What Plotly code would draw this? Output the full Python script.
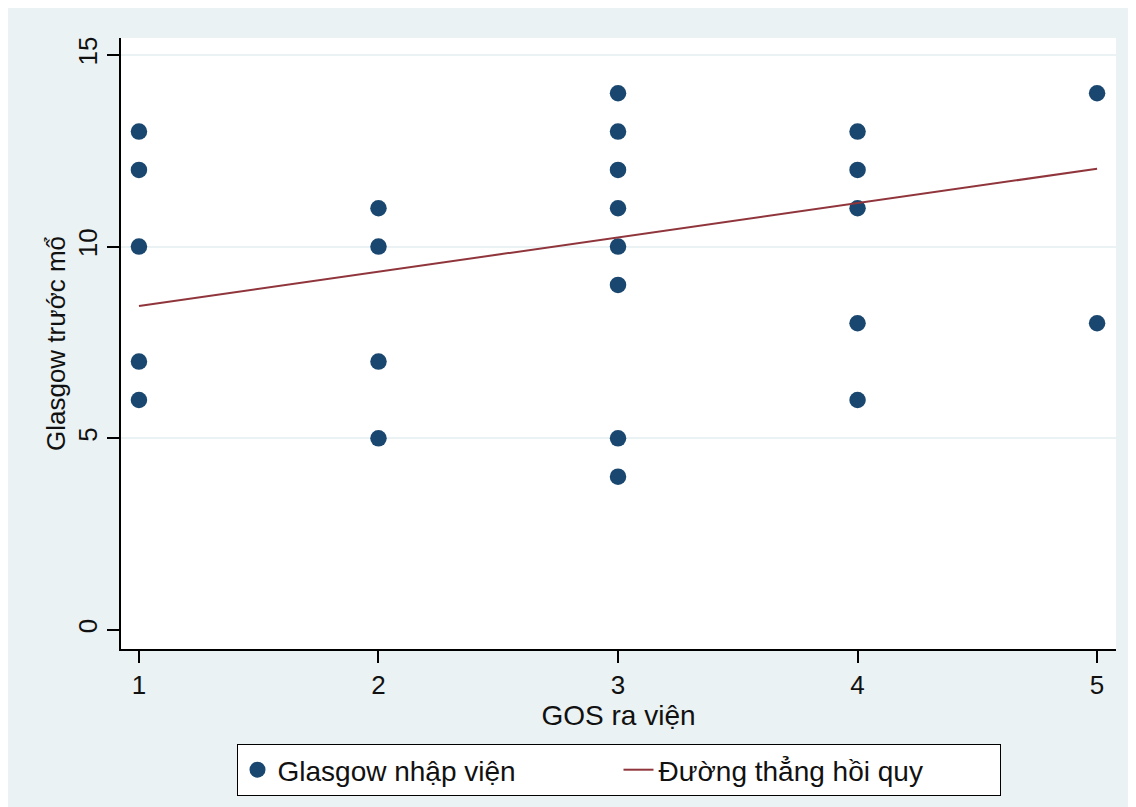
import plotly.graph_objects as go

# Data
gos_x = [1, 1, 1, 1, 1,
         2, 2, 2, 2,
         3, 3, 3, 3, 3, 3, 3, 3,
         4, 4, 4, 4, 4,
         5, 5]
glasgow_y = [13, 12, 10, 7, 6,
             11, 10, 7, 5,
             14, 13, 12, 11, 10, 9, 5, 4,
             13, 12, 11, 8, 6,
             14, 8]
fit_x = [1, 5]
fit_y = [8.45, 12.03]

x_ticks = [1, 2, 3, 4, 5]
y_ticks = [0, 5, 10, 15]

BG = "#EAF2F3"
NAVY = "#1A476F"
MAROON = "#90353B"
FONT = "Liberation Sans, Arial, sans-serif"

fig = go.Figure()
fig.add_trace(go.Scatter(
    x=gos_x, y=glasgow_y, mode="markers",
    name="Glasgow nhập viện",
    marker=dict(color=NAVY, size=16.5, line=dict(width=0)),
))
fig.add_trace(go.Scatter(
    x=fit_x, y=fit_y, mode="lines",
    name="Đường thẳng hồi quy",
    line=dict(color=MAROON, width=2),
))

W, H = 1128, 799
L, R, T, B = 113, 20, 30, 157
ph = H - T - B


def py(q):
    # q: y pixel in figure coordinates
    return (H - B - q) / ph


fig.update_layout(
    width=W, height=H,
    margin=dict(l=L, r=R, t=T, b=B, pad=0),
    paper_bgcolor=BG,
    plot_bgcolor="white",
    font=dict(family=FONT, size=26, color="#111111"),
    showlegend=True,
    legend=dict(
        orientation="h",
        x=0.5, xanchor="center",
        y=py(736), yanchor="top",
        bgcolor="white",
        bordercolor="black",
        borderwidth=1,
        font=dict(size=28, family=FONT, color="#111111"),
        entrywidth=336,
        entrywidthmode="pixels",
        itemsizing="trace",
    ),
    xaxis=dict(
        range=[0.925, 5.079],
        tickmode="array", tickvals=x_ticks,
        ticks="outside", ticklen=12, tickwidth=1.5, tickcolor="black",
        showgrid=False, zeroline=False,
        showline=True, linecolor="black", linewidth=1.5,
        tickfont=dict(size=26),
        title=dict(text="GOS ra viện", font=dict(size=28), standoff=4),
    ),
    yaxis=dict(
        range=[-0.495, 15.44],
        tickmode="array", tickvals=y_ticks,
        tickangle=-90,
        ticks="outside", ticklen=12, tickwidth=1.5, tickcolor="black",
        showgrid=True, gridcolor=BG, gridwidth=1.5,
        zeroline=True, zerolinecolor="white", zerolinewidth=1.5,
        showline=True, linecolor="black", linewidth=1.5,
        tickfont=dict(size=26),
        title=dict(text="Glasgow trước mổ", font=dict(size=26), standoff=0),
    ),
)

fig.write_html("out.html")
